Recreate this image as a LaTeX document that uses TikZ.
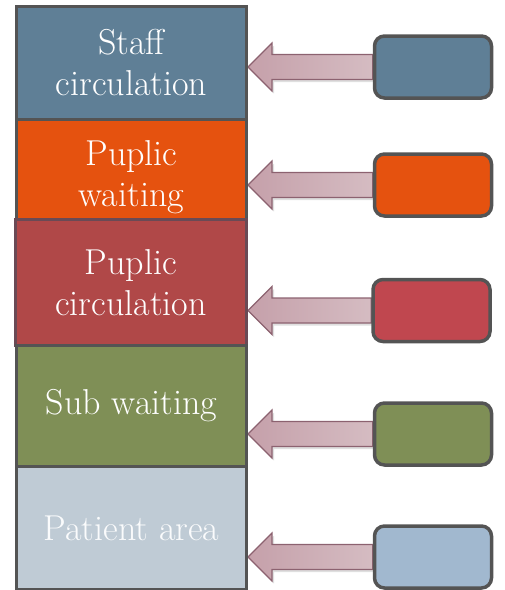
\documentclass[tikz,border=0pt]{standalone}
\usetikzlibrary{calc,shadows}
\definecolor{staffblue}{HTML}{5F7F96}
\definecolor{waitorange}{HTML}{E5520F}
\definecolor{circred}{HTML}{B04848}
\definecolor{circredsmall}{HTML}{C0474F}
\definecolor{circredline}{HTML}{6A4A55}
\definecolor{subgreen}{HTML}{7F8F56}
\definecolor{patientgray}{HTML}{BFCBD5}
\definecolor{patientblue}{HTML}{A1B8CF}
\definecolor{boxline}{HTML}{545454}
\definecolor{arrline}{HTML}{8C6270}
\definecolor{arrdark}{HTML}{C5A0AA}
\definecolor{arrlight}{HTML}{D5BCC2}
\pgfdeclarelayer{background}
\pgfsetlayers{background,main}
\tikzset{
  area/.style={draw=boxline, line width=3pt, minimum width=230pt, anchor=north west,
    text=white, align=center, font=\fontsize{36}{41}\selectfont},
  key/.style={draw=boxline, line width=3.5pt, rounded corners=10pt,
    minimum width=117pt, minimum height=62pt},
  fatarr/.style={draw=arrline, line width=1.2pt, left color=arrdark, right color=arrlight,
    drop shadow={opacity=0.25, shadow xshift=2pt, shadow yshift=-2.5pt}}
}
\newcommand{\fatarrow}[2]{%
  \path[fatarr] let \p1=(#1.west), \p2=(#2.east) in
    (\x1,\y1+12.5pt) -- (\x2+24pt,\y1+12.5pt) -- (\x2+24pt,\y1+24pt) -- (\x2,\y1)
    -- (\x2+24pt,\y1-24pt) -- (\x2+24pt,\y1-12.5pt) -- (\x1,\y1-12.5pt) -- cycle;}
\begin{document}
\begin{tikzpicture}[x=1pt,y=-1pt]
  \useasboundingbox (0,0) rectangle (505,590);
  % zones
  \node[area, fill=staffblue, minimum height=113pt] (staff) at (15,5) {Staff\\circulation};
  \node[area, fill=waitorange, minimum height=116pt] (pwait) at (15,118) {Puplic\\waiting};
  \node[area, fill=circred, draw=circredline, minimum width=231pt, minimum height=126pt] (pcirc) at (14,218) {Puplic\\circulation};
  \node[area, fill=subgreen, minimum height=121pt] (subw) at (15,344) {Sub waiting};
  \node[area, fill=patientgray, text=white!92!patientgray, minimum height=123pt] (patient) at (15,465) {Patient area};
  % colour keys
  \node[key, fill=staffblue] (kstaff) at (433,67) {};
  \node[key, fill=waitorange] (kwait) at (433,185) {};
  \node[key, fill=circredsmall] (kcirc) at (431.5,310.5) {};
  \node[key, fill=subgreen] (ksub) at (433,434) {};
  \node[key, fill=patientblue] (kpatient) at (433,557) {};
  \begin{pgfonlayer}{background}
    \fatarrow{kstaff}{staff}
    \fatarrow{kwait}{pwait}
    \fatarrow{kcirc}{pcirc}
    \fatarrow{ksub}{subw}
    \fatarrow{kpatient}{patient}
  \end{pgfonlayer}
\end{tikzpicture}
\end{document}
